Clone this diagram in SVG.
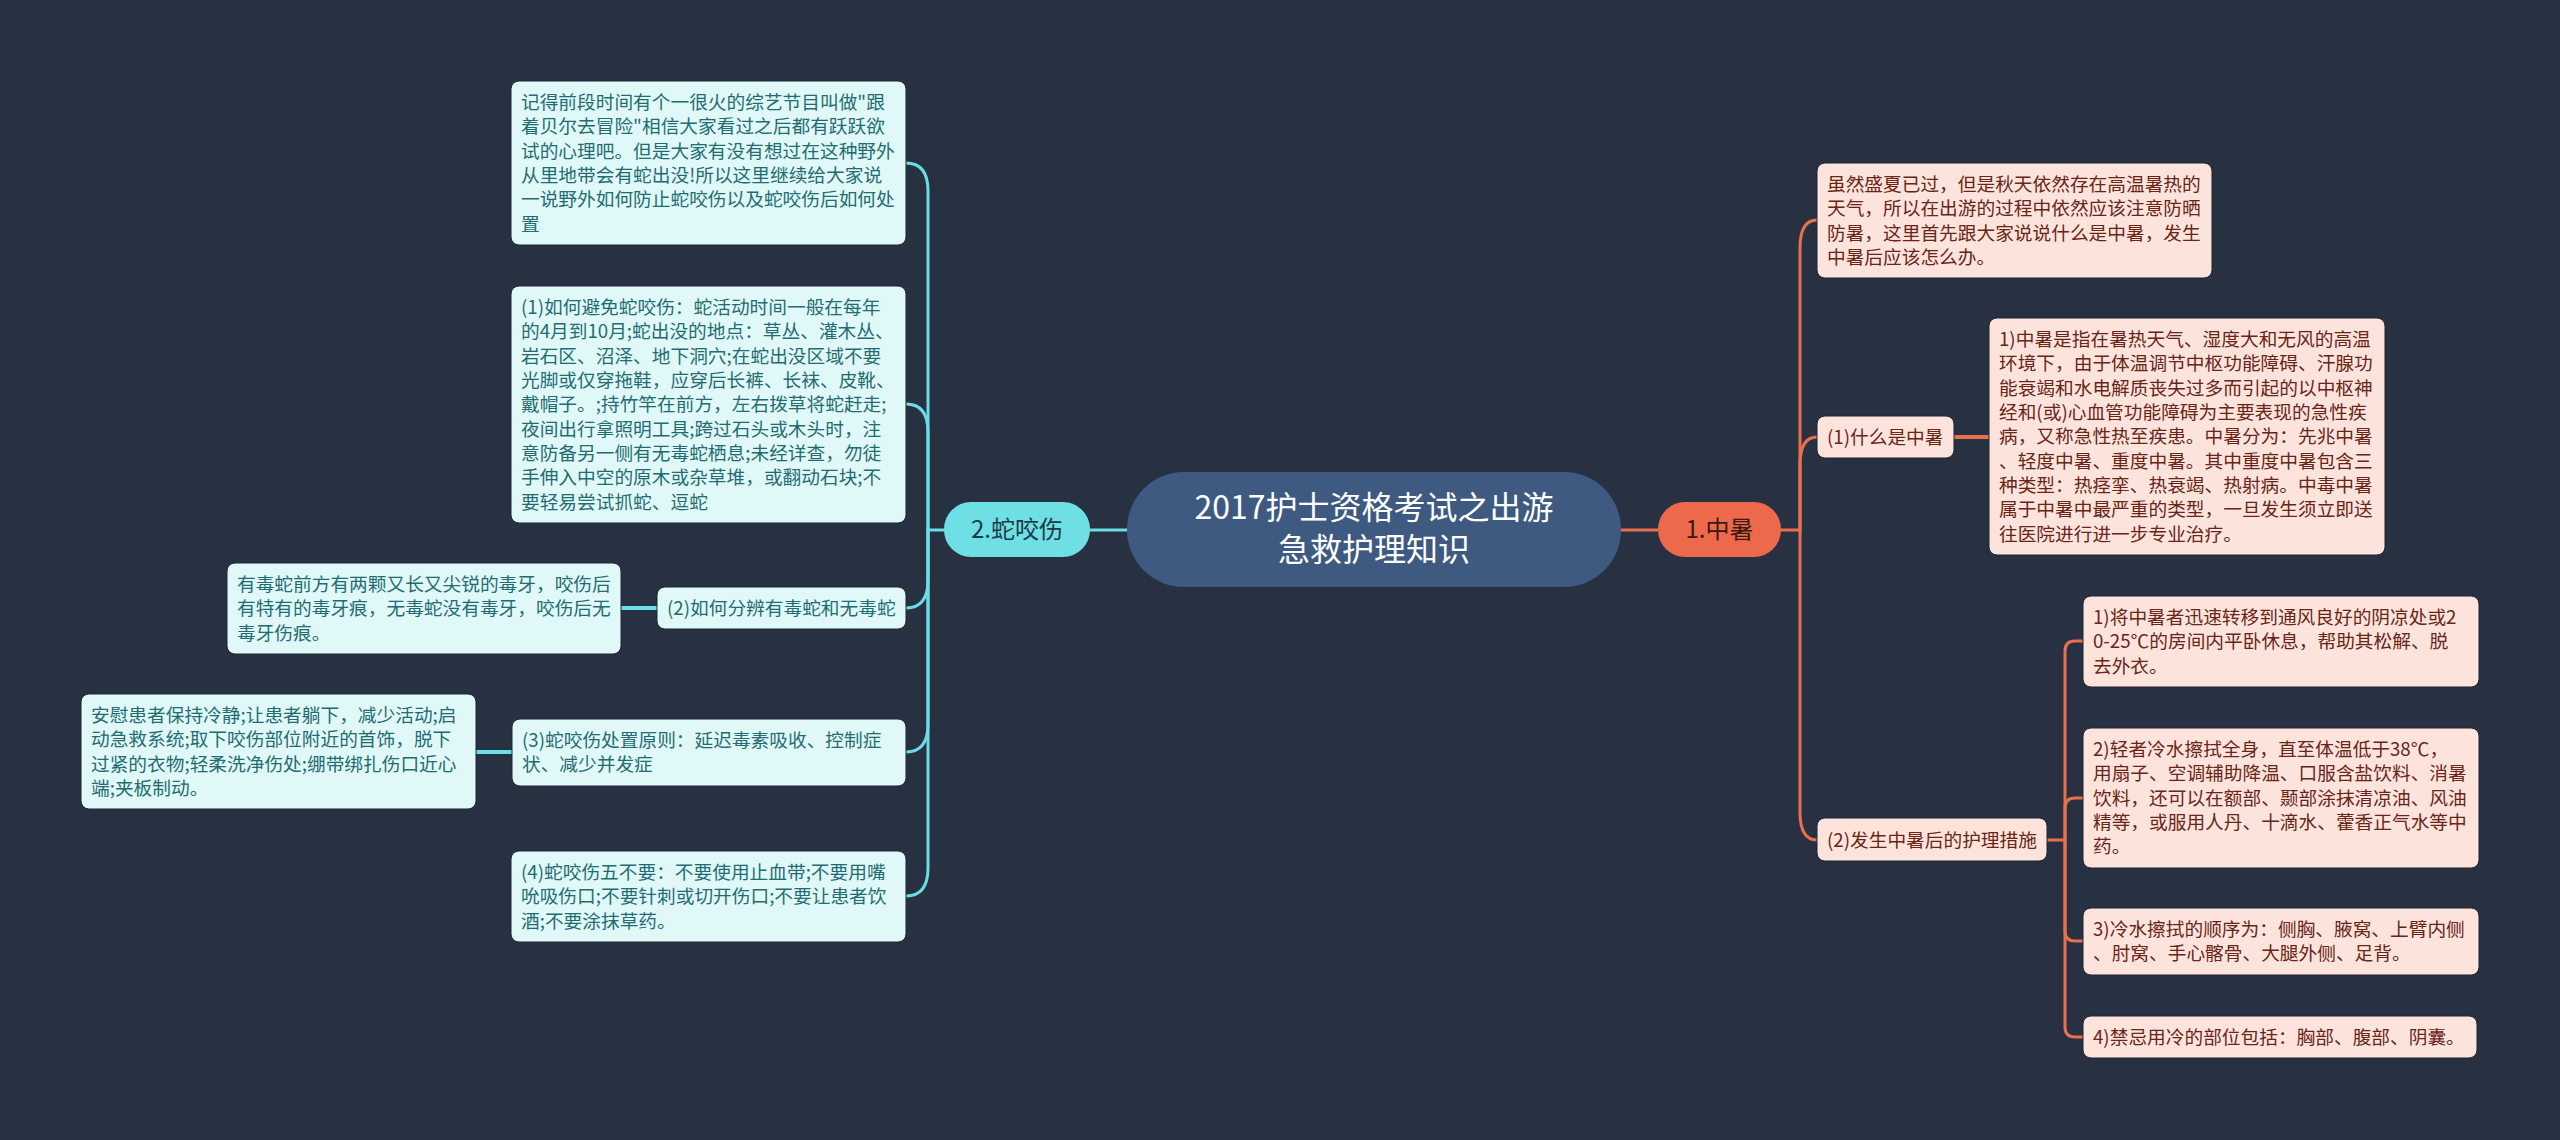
<svg xmlns="http://www.w3.org/2000/svg" width="2560" height="1140" viewBox="0 0 2560 1140">
<style>
.bg{fill:#283141}
.lc{fill:none;stroke:#6BDDE4;stroke-width:3;stroke-linecap:round}
.lo{fill:none;stroke:#E8704F;stroke-width:3;stroke-linecap:round}
.bl{fill:#E1F8F8;stroke:#1d2633;stroke-width:1}
.br{fill:#FCE4DD;stroke:#1d2633;stroke-width:1}
.t{font-family:"Noto Sans CJK SC","Noto Sans",sans-serif;font-size:18.7px}
.tl{fill:#1F6D72}
.tr{fill:#6A2516}
</style>
<rect class="bg" x="0" y="0" width="2560" height="1140"/>
<g id="connectors">
<path class="lc" d="M1127,530 L1090,530"/>
<path class="lo" d="M1621,530 L1658,530"/>
<path class="lc" d="M944,530 L928,530"/>
<path class="lc" d="M928,530 L928,191 Q928,163 906,163"/>
<path class="lc" d="M928,530 L928,432 Q928,404 906,404"/>
<path class="lc" d="M928,530 L928,580 Q928,608 906,608"/>
<path class="lc" d="M928,530 L928,724 Q928,752 906,752"/>
<path class="lc" d="M928,530 L928,868 Q928,896 906,896"/>
<path class="lc" d="M657,608 L621,608" style="stroke-width:4"/>
<path class="lc" d="M512,752 L476,752" style="stroke-width:4"/>
<path class="lo" d="M1781,530 L1800,530"/>
<path class="lo" d="M1800,530 L1800,248 Q1800,220 1817,220"/>
<path class="lo" d="M1800,530 L1800,465 Q1800,437 1817,437"/>
<path class="lo" d="M1800,530 L1800,812 Q1800,840 1817,840"/>
<path class="lo" d="M1954,437 L1989,437" style="stroke-width:4"/>
<path class="lo" d="M2047,840 L2065,840"/>
<path class="lo" d="M2065,840 L2065,651 Q2065,641 2075,641 L2083,641"/>
<path class="lo" d="M2065,840 L2065,808 Q2065,798 2075,798 L2083,798"/>
<path class="lo" d="M2065,840 L2065,931 Q2065,941 2075,941 L2083,941"/>
<path class="lo" d="M2065,840 L2065,1027 Q2065,1037 2075,1037 L2083,1037"/>
</g>
<g id="root">
<rect x="1127" y="472" width="494" height="115" rx="57" fill="#3E5A80"/>
<text x="1374" y="519" text-anchor="middle" font-family="Noto Sans CJK SC, sans-serif" font-size="32" fill="#FFFFFF">2017护士资格考试之出游</text>
<text x="1374" y="561" text-anchor="middle" font-family="Noto Sans CJK SC, sans-serif" font-size="32" fill="#FFFFFF">急救护理知识</text>
</g>
<g id="n-zhongshu">
<rect x="1658" y="502" width="123" height="55" rx="27" fill="#EC6A4B"/>
<text x="1719.5" y="538" text-anchor="middle" font-family="Noto Sans CJK SC, sans-serif" font-size="24" fill="#3A1A12">1.中暑</text>
</g>
<g id="n-shayao">
<rect x="944" y="502" width="146" height="55" rx="27" fill="#6DDFE5"/>
<text x="1017" y="538" text-anchor="middle" font-family="Noto Sans CJK SC, sans-serif" font-size="24" fill="#1D3A48">2.蛇咬伤</text>
</g>
<g id="l-intro">
<rect class="bl" x="511" y="81" width="395" height="164" rx="8"/>
<text class="t tl" x="521" y="109.15"><tspan x="521">记得前段时间有个一很火的综艺节目叫做"跟</tspan><tspan x="521" dy="24.3">着贝尔去冒险"相信大家看过之后都有跃跃欲</tspan><tspan x="521" dy="24.3">试的心理吧。但是大家有没有想过在这种野外</tspan><tspan x="521" dy="24.3">从里地带会有蛇出没!所以这里继续给大家说</tspan><tspan x="521" dy="24.3">一说野外如何防止蛇咬伤以及蛇咬伤后如何处</tspan><tspan x="521" dy="24.3">置</tspan></text>
</g>
<g id="l-1">
<rect class="bl" x="511" y="286" width="395" height="237" rx="8"/>
<text class="t tl" x="521" y="314.15"><tspan x="521">(1)如何避免蛇咬伤：蛇活动时间一般在每年</tspan><tspan x="521" dy="24.3">的4月到10月;蛇出没的地点：草丛、灌木丛、</tspan><tspan x="521" dy="24.3">岩石区、沼泽、地下洞穴;在蛇出没区域不要</tspan><tspan x="521" dy="24.3">光脚或仅穿拖鞋，应穿后长裤、长袜、皮靴、</tspan><tspan x="521" dy="24.3">戴帽子。;持竹竿在前方，左右拨草将蛇赶走;</tspan><tspan x="521" dy="24.3">夜间出行拿照明工具;跨过石头或木头时，注</tspan><tspan x="521" dy="24.3">意防备另一侧有无毒蛇栖息;未经详查，勿徒</tspan><tspan x="521" dy="24.3">手伸入中空的原木或杂草堆，或翻动石块;不</tspan><tspan x="521" dy="24.3">要轻易尝试抓蛇、逗蛇</tspan></text>
</g>
<g id="l-2">
<rect class="bl" x="657" y="587" width="249" height="42" rx="8"/>
<text class="t tl" x="667" y="615">(2)如何分辨有毒蛇和无毒蛇</text>
</g>
<g id="l-2c">
<rect class="bl" x="227" y="563" width="394" height="91" rx="8"/>
<text class="t tl" x="237" y="591.15"><tspan x="237">有毒蛇前方有两颗又长又尖锐的毒牙，咬伤后</tspan><tspan x="237" dy="24.3">有特有的毒牙痕，无毒蛇没有毒牙，咬伤后无</tspan><tspan x="237" dy="24.3">毒牙伤痕。</tspan></text>
</g>
<g id="l-3">
<rect class="bl" x="512" y="719" width="394" height="67" rx="8"/>
<text class="t tl" x="522" y="747.15"><tspan x="522">(3)蛇咬伤处置原则：延迟毒素吸收、控制症</tspan><tspan x="522" dy="24.3">状、减少并发症</tspan></text>
</g>
<g id="l-3c">
<rect class="bl" x="81" y="694" width="395" height="115" rx="8"/>
<text class="t tl" x="91" y="722.15"><tspan x="91">安慰患者保持冷静;让患者躺下，减少活动;启</tspan><tspan x="91" dy="24.3">动急救系统;取下咬伤部位附近的首饰，脱下</tspan><tspan x="91" dy="24.3">过紧的衣物;轻柔洗净伤处;绷带绑扎伤口近心</tspan><tspan x="91" dy="24.3">端;夹板制动。</tspan></text>
</g>
<g id="l-4">
<rect class="bl" x="511" y="851" width="395" height="91" rx="8"/>
<text class="t tl" x="521" y="879.15"><tspan x="521">(4)蛇咬伤五不要：不要使用止血带;不要用嘴</tspan><tspan x="521" dy="24.3">吮吸伤口;不要针刺或切开伤口;不要让患者饮</tspan><tspan x="521" dy="24.3">酒;不要涂抹草药。</tspan></text>
</g>
<g id="r-intro">
<rect class="br" x="1817" y="163" width="395" height="115" rx="8"/>
<text class="t tr" x="1827" y="191.15"><tspan x="1827">虽然盛夏已过，但是秋天依然存在高温暑热的</tspan><tspan x="1827" dy="24.3">天气，所以在出游的过程中依然应该注意防晒</tspan><tspan x="1827" dy="24.3">防暑，这里首先跟大家说说什么是中暑，发生</tspan><tspan x="1827" dy="24.3">中暑后应该怎么办。</tspan></text>
</g>
<g id="r-1">
<rect class="br" x="1817" y="416" width="137" height="42" rx="8"/>
<text class="t tr" x="1827" y="444">(1)什么是中暑</text>
</g>
<g id="r-1c">
<rect class="br" x="1989" y="318" width="396" height="237" rx="8"/>
<text class="t tr" x="1999" y="346.15"><tspan x="1999">1)中暑是指在暑热天气、湿度大和无风的高温</tspan><tspan x="1999" dy="24.3">环境下，由于体温调节中枢功能障碍、汗腺功</tspan><tspan x="1999" dy="24.3">能衰竭和水电解质丧失过多而引起的以中枢神</tspan><tspan x="1999" dy="24.3">经和(或)心血管功能障碍为主要表现的急性疾</tspan><tspan x="1999" dy="24.3">病，又称急性热至疾患。中暑分为：先兆中暑</tspan><tspan x="1999" dy="24.3">、轻度中暑、重度中暑。其中重度中暑包含三</tspan><tspan x="1999" dy="24.3">种类型：热痉挛、热衰竭、热射病。中毒中暑</tspan><tspan x="1999" dy="24.3">属于中暑中最严重的类型，一旦发生须立即送</tspan><tspan x="1999" dy="24.3">往医院进行进一步专业治疗。</tspan></text>
</g>
<g id="r-2">
<rect class="br" x="1817" y="818" width="230" height="43" rx="8"/>
<text class="t tr" x="1827" y="846.5">(2)发生中暑后的护理措施</text>
</g>
<g id="r-2a">
<rect class="br" x="2083" y="596" width="396" height="91" rx="8"/>
<text class="t tr" x="2093" y="624.15"><tspan x="2093">1)将中暑者迅速转移到通风良好的阴凉处或2</tspan><tspan x="2093" dy="24.3">0-25℃的房间内平卧休息，帮助其松解、脱</tspan><tspan x="2093" dy="24.3">去外衣。</tspan></text>
</g>
<g id="r-2b">
<rect class="br" x="2083" y="728" width="396" height="140" rx="8"/>
<text class="t tr" x="2093" y="756.15"><tspan x="2093">2)轻者冷水擦拭全身，直至体温低于38℃，</tspan><tspan x="2093" dy="24.3">用扇子、空调辅助降温、口服含盐饮料、消暑</tspan><tspan x="2093" dy="24.3">饮料，还可以在额部、颞部涂抹清凉油、风油</tspan><tspan x="2093" dy="24.3">精等，或服用人丹、十滴水、藿香正气水等中</tspan><tspan x="2093" dy="24.3">药。</tspan></text>
</g>
<g id="r-2c">
<rect class="br" x="2083" y="908" width="396" height="67" rx="8"/>
<text class="t tr" x="2093" y="936.15"><tspan x="2093">3)冷水擦拭的顺序为：侧胸、腋窝、上臂内侧</tspan><tspan x="2093" dy="24.3">、肘窝、手心髂骨、大腿外侧、足背。</tspan></text>
</g>
<g id="r-2d">
<rect class="br" x="2083" y="1016" width="394" height="42" rx="8"/>
<text class="t tr" x="2093" y="1044">4)禁忌用冷的部位包括：胸部、腹部、阴囊。</text>
</g>
</svg>
